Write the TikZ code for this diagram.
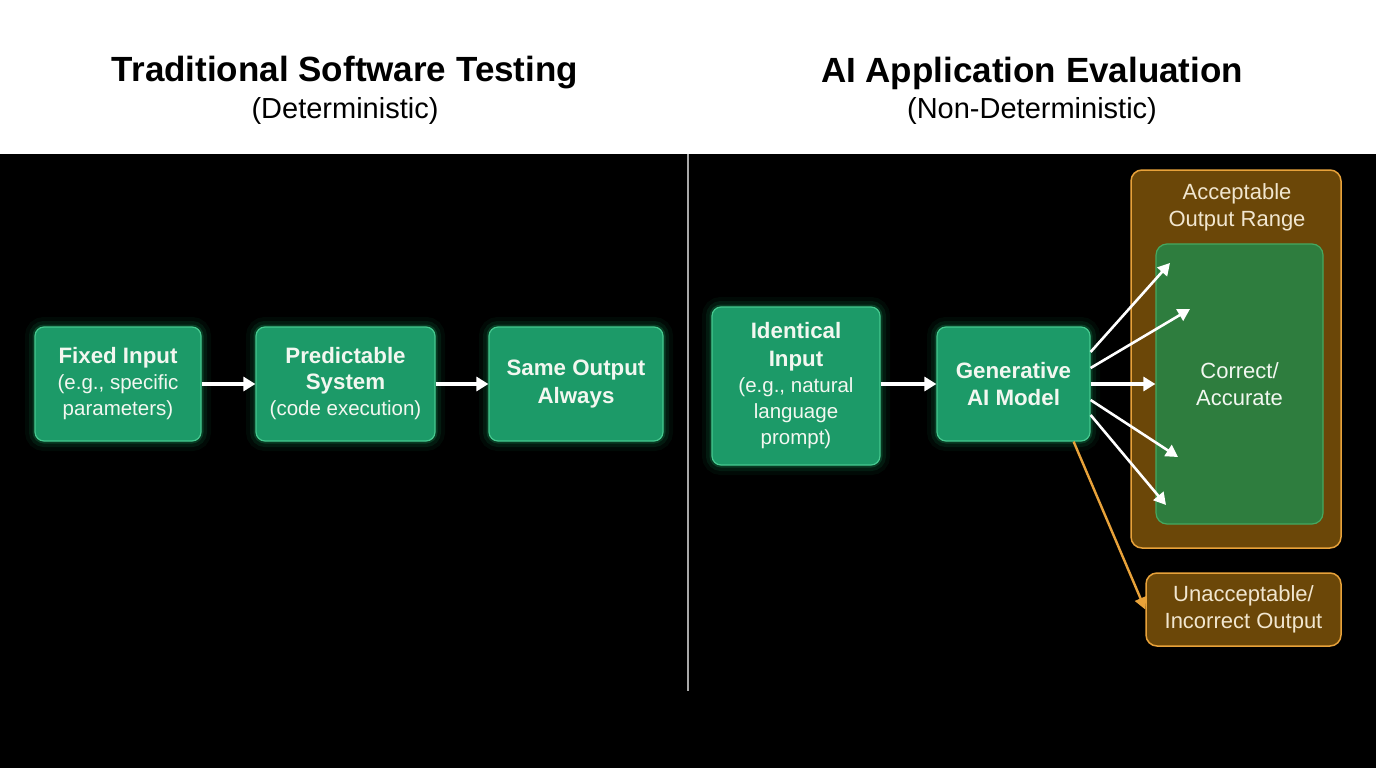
\documentclass[tikz,border=0pt]{standalone}
\usepackage{fontspec}
\setmainfont{Liberation Sans}
\usetikzlibrary{arrows.meta}
\definecolor{gfill}{HTML}{1C9A68}
\definecolor{gedge}{HTML}{45C98F}
\definecolor{glowc}{HTML}{22D07E}
\definecolor{ofill}{HTML}{6B4708}
\definecolor{oedge}{HTML}{E8A23A}
\definecolor{infill}{HTML}{2E7D3E}
\definecolor{inedge}{HTML}{45A860}
\definecolor{divgray}{HTML}{A8A8A8}
\definecolor{txt}{HTML}{F2F7F0}
\definecolor{otxt}{HTML}{F1E6CF}
\newcommand\bt[1]{{\fontsize{22.3}{28}\selectfont\bfseries #1}}
\begin{document}
\begin{tikzpicture}[x=1pt,y=-1pt,
  gbox/.style={draw=gedge, line width=1.2pt, fill=gfill, rounded corners=9pt,
    text=txt, align=center, inner sep=0pt,
    font=\fontsize{20.5}{26}\selectfont,
    preaction={draw=glowc, line width=20pt, draw opacity=0.05},
    preaction={draw=glowc, line width=12pt, draw opacity=0.09},
    preaction={draw=glowc, line width=5pt, draw opacity=0.18}},
  obox/.style={draw=oedge, line width=1.5pt, fill=ofill, rounded corners=11pt,
    text=otxt, align=center, inner sep=0pt, font=\fontsize{22}{27}\selectfont},
  ibox/.style={draw=inedge, line width=1.2pt, fill=infill, rounded corners=11pt,
    text=txt, align=center, inner sep=0pt, font=\fontsize{22}{27}\selectfont},
  warr/.style={draw=white, line width=3.6pt, -{Triangle[length=12pt,width=14pt]}},
  farr/.style={draw=white, line width=2.6pt, -{Triangle[length=12pt,width=13pt]}},
  oarr/.style={draw=oedge, line width=2.4pt, -{Triangle[length=12pt,width=12pt]}},
  ttl/.style={font=\fontsize{35}{40}\selectfont\bfseries, text=black},
  sub/.style={font=\fontsize{29}{34}\selectfont, text=black}
]
\useasboundingbox (0,0) rectangle (1376,768);
\fill[white] (0,0) rectangle (1376,154);
\fill[black] (0,154) rectangle (1376,768);

\node[ttl] (t1) at (345,73) {Traditional Software Testing};
\node[sub] (s1) at (345,111) {(Deterministic)};
\node[ttl] (t2) at (1032,73) {AI Application Evaluation};
\node[sub] (s2) at (1032,111) {(Non-Deterministic)};

\coordinate (dtop) at (688,154);
\coordinate (dbot) at (688,691);
\draw[divgray, line width=2pt] (dtop) -- (dbot);

% left flow
\node[gbox, minimum width=166pt, minimum height=114pt] (fixed) at (118,384)
  {\bt{Fixed Input}\\(e.g., specific\\parameters)};
\node[gbox, minimum width=179pt, minimum height=114pt] (pred) at (345.5,384)
  {\bt{Predictable}\\\bt{System}\\(code execution)};
\node[gbox, minimum width=174pt, minimum height=114pt, font=\fontsize{22.3}{28}\selectfont] (same) at (576,384)
  {\bt{Same Output}\\\bt{Always}};
\draw[warr] (fixed) -- (pred);
\draw[warr] (pred) -- (same);

% right flow
\node[gbox, minimum width=168pt, minimum height=158pt] (ident) at (796,386)
  {\bt{Identical}\\[2pt]\bt{Input}\\(e.g., natural\\language\\prompt)};
\node[gbox, minimum width=153pt, minimum height=114pt, font=\fontsize{22.3}{27}\selectfont] (gen) at (1013.5,384)
  {\bt{Generative}\\\bt{AI Model}};
\draw[warr] (ident.east |- gen.center) -- (gen.west);

\node[obox, minimum width=210pt, minimum height=378pt] (accept) at (1236,359) {};
\node[text=otxt, align=center, font=\fontsize{22}{27}\selectfont] (acclbl) at (1237,207) {Acceptable\\Output Range};
\node[ibox, minimum width=167pt, minimum height=280pt] (inner) at (1239.5,384) {Correct/\\Accurate};
\node[obox, minimum width=195pt, minimum height=73pt] (unacc) at (1243.5,609.5) {Unacceptable/\\Incorrect Output};

\coordinate (f1) at (1170,263);
\coordinate (f2) at (1190,309);
\coordinate (f4) at (1178,457);
\coordinate (f5) at (1166,505);
\draw[farr] ([yshift=32pt]gen.east) -- (f1);
\draw[farr] ([yshift=16pt]gen.east) -- (f2);
\draw[warr] (gen.east) -- (gen.east -| inner.west);
\draw[farr] ([yshift=-16pt]gen.east) -- (f4);
\draw[farr] ([yshift=-31pt]gen.east) -- (f5);
\draw[oarr] ([xshift=-17pt]gen.south east) -- (unacc.west);
\end{tikzpicture}
\end{document}
